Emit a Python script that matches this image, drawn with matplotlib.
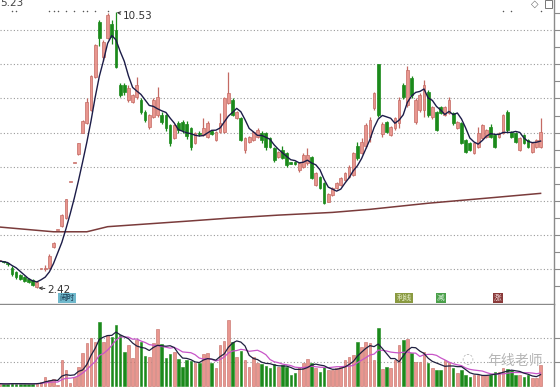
import matplotlib
matplotlib.use('Agg')
import matplotlib.pyplot as plt
import numpy as np
import pandas as pd
from matplotlib.patches import Rectangle

plt.rcParams['font.family'] = ['Noto Sans CJK SC', 'DejaVu Sans']

# ---------------- data ----------------
opens = [3.21, 3.20, 3.14, 3.01, 2.90, 2.81, 2.75, 2.69, 2.66, 2.46,
         2.98, 2.98, 3.02, 3.63, 4.13, 4.25, 4.48, 5.54, 6.09, 6.37,
         7.00, 7.28, 7.66, 8.63, 10.25, 9.22, 9.78, 10.20, 10.00, 8.40,
         8.40, 7.96, 7.90, 8.03, 7.96, 7.60, 7.16, 7.46, 7.51, 7.51,
         7.51, 7.22, 6.84, 7.28, 7.31, 7.25, 7.13, 6.69, 7.00, 6.93,
         6.87, 7.04, 6.78, 7.01, 7.01, 7.87, 7.96, 7.43, 7.43, 6.49,
         6.72, 6.78, 6.87, 6.99, 6.99, 6.84, 6.54, 6.28, 6.49, 6.40,
         6.10, 6.13, 5.89, 5.99, 6.10, 6.28, 5.46, 5.69, 5.51, 4.96,
         5.16, 5.37, 5.46, 5.60, 5.69, 5.75, 6.60, 6.40, 6.60, 6.87,
         7.72, 9.00, 6.95, 7.31, 6.93, 7.13, 7.28, 8.40, 7.81, 8.60,
         7.31, 7.66, 7.66, 8.19, 7.46, 7.60, 7.75, 7.51, 7.57, 7.57,
         7.13, 7.28, 6.78, 6.69, 6.40, 6.57, 6.84, 6.87, 7.16, 6.93,
         6.87, 6.99, 7.60, 7.01, 6.99, 6.49, 6.93, 6.78, 6.43, 6.57,
         6.57]
highs = [3.25, 3.22, 3.17, 3.06, 2.93, 2.84, 2.78, 2.72, 2.69, 2.62,
         3.00, 3.10, 3.43, 3.78, 4.13, 4.60, 5.05, 5.54, 6.09, 6.70,
         7.37, 8.00, 8.70, 9.60, 10.32, 9.72, 10.50, 10.30, 10.53, 8.45,
         8.45, 8.40, 8.13, 8.63, 8.00, 7.65, 7.55, 8.00, 8.34, 7.60,
         7.55, 7.25, 7.25, 7.33, 7.37, 7.34, 7.16, 7.02, 7.05, 7.43,
         7.33, 7.08, 7.04, 7.57, 8.03, 8.78, 8.00, 7.63, 7.46, 6.87,
         6.90, 7.04, 7.13, 7.04, 7.02, 6.87, 6.57, 6.46, 6.60, 6.43,
         6.12, 6.15, 6.13, 6.40, 6.54, 6.31, 5.84, 5.72, 5.54, 5.22,
         5.40, 5.55, 5.70, 5.84, 6.05, 6.43, 6.72, 6.84, 7.28, 7.46,
         8.20, 9.00, 7.31, 7.34, 7.19, 7.46, 8.04, 8.46, 8.96, 8.65,
         8.00, 8.16, 8.54, 8.25, 7.78, 7.63, 7.78, 7.78, 8.04, 7.60,
         7.34, 7.31, 6.81, 6.72, 6.72, 7.16, 7.25, 7.10, 7.25, 6.96,
         7.02, 7.54, 7.66, 7.04, 7.02, 6.87, 6.96, 6.81, 6.72, 6.81,
         7.43]
lows = [3.19, 3.16, 3.08, 2.78, 2.69, 2.66, 2.60, 2.57, 2.48, 2.42,
        2.98, 2.92, 3.00, 3.60, 4.13, 4.22, 4.45, 5.54, 6.09, 6.35,
        6.98, 7.25, 7.63, 8.60, 9.55, 9.10, 9.75, 9.60, 8.90, 8.05,
        8.10, 7.90, 7.87, 7.98, 7.55, 7.30, 7.10, 7.42, 7.45, 7.25,
        7.05, 6.60, 6.80, 6.98, 7.00, 6.80, 6.50, 6.66, 6.90, 6.90,
        6.84, 6.93, 6.75, 6.98, 6.98, 7.85, 7.48, 7.40, 6.75, 6.40,
        6.70, 6.75, 6.85, 6.70, 6.50, 6.55, 6.13, 6.25, 6.22, 6.00,
        6.06, 6.05, 5.85, 5.96, 6.04, 5.63, 5.43, 5.34, 4.90, 4.95,
        5.13, 5.34, 5.43, 5.57, 5.66, 5.72, 6.20, 6.37, 6.55, 6.72,
        7.66, 7.45, 6.87, 6.99, 6.90, 7.07, 7.13, 7.99, 7.75, 8.00,
        7.25, 7.60, 7.46, 7.45, 7.40, 7.04, 7.54, 7.48, 7.54, 7.22,
        7.10, 6.66, 6.40, 6.46, 6.37, 6.54, 6.81, 6.84, 6.84, 6.54,
        6.84, 6.96, 7.01, 6.84, 6.69, 6.46, 6.66, 6.54, 6.40, 6.54,
        6.54]
closes = [3.22, 3.18, 3.12, 2.84, 2.75, 2.69, 2.63, 2.60, 2.51, 2.60,
          3.00, 3.02, 3.37, 3.75, 4.13, 4.57, 5.04, 5.54, 6.09, 6.69,
          7.34, 7.90, 8.66, 9.57, 9.78, 9.66, 10.45, 9.80, 8.93, 8.10,
          8.19, 8.31, 8.10, 8.40, 7.60, 7.37, 7.51, 7.96, 8.04, 7.31,
          7.13, 6.69, 7.22, 7.07, 7.07, 6.90, 6.57, 6.99, 6.96, 7.13,
          7.28, 6.96, 7.01, 7.28, 8.00, 8.16, 7.51, 7.60, 6.78, 6.84,
          6.87, 7.01, 7.07, 6.78, 6.57, 6.57, 6.19, 6.43, 6.25, 6.04,
          6.08, 6.07, 6.10, 6.34, 6.34, 5.66, 5.81, 5.37, 4.93, 5.20,
          5.37, 5.51, 5.66, 5.81, 5.99, 6.40, 6.25, 6.72, 7.22, 7.37,
          8.16, 7.51, 7.25, 7.01, 7.16, 7.43, 7.96, 8.04, 8.84, 8.10,
          7.96, 8.10, 8.40, 7.51, 7.75, 7.07, 7.57, 7.75, 7.96, 7.28,
          7.31, 6.69, 6.43, 6.49, 6.69, 6.99, 7.22, 7.07, 6.87, 6.57,
          6.99, 7.51, 7.07, 6.87, 6.72, 6.84, 6.69, 6.57, 6.69, 6.78,
          7.01]
volumes = [1.0, 0.8, 0.9, 1.2, 1.0, 0.8, 0.9, 0.8, 1.0, 1.3,
           1.8, 3.8, 2.5, 2.9, 0.6, 10.8, 6.7, 1.2, 3.8, 8.0,
           13.7, 18.0, 20.1, 18.5, 26.8, 18.5, 21.2, 20.5, 25.4, 21.2,
           14.3, 17.1, 11.5, 19.2, 18.5, 12.5, 12.2, 18.0, 23.6, 17.5,
           11.5, 13.3, 14.3, 11.1, 8.0, 10.8, 10.6, 9.7, 9.7, 13.3,
           13.7, 9.7, 7.4, 17.1, 18.9, 27.5, 18.5, 11.9, 14.7, 10.8,
           8.0, 11.9, 9.7, 9.2, 8.3, 7.4, 9.2, 8.0, 8.75, 8.0,
           4.6, 5.3, 8.0, 9.4, 11.1, 9.7, 7.4, 6.0, 8.0, 6.7,
           6.7, 7.4, 8.0, 10.8, 11.9, 12.9, 18.5, 16.4, 18.5, 17.8,
           10.8, 24.0, 7.0, 8.0, 7.4, 10.8, 17.1, 19.2, 19.4, 13.9,
           10.1, 10.1, 14.3, 9.4, 7.4, 6.7, 6.7, 10.8, 10.1, 7.4,
           5.3, 6.7, 4.6, 3.6, 4.6, 4.6, 4.6, 4.6, 4.6, 6.0,
           6.0, 7.4, 7.0, 6.7, 4.6, 4.6, 3.9, 4.6, 3.2, 3.2,
           8.75]
# long-term moving average (candle index, price)
long_ma_idx = [0, 13, 21, 26, 46, 55, 67, 80, 89, 103, 119, 130]
long_ma_val = [4.22, 4.08, 4.08, 4.23, 4.40, 4.48, 4.57, 4.65, 4.74, 4.92, 5.09, 5.21]
# signal dots along the top
signal_idx = [3, 4, 12, 13, 14, 16, 18, 20, 21, 23, 26, 121, 123, 130]
high_label = "10.53"
low_label = "2.42"
ma_label = "5.23"

# ---------------- styling ----------------
RED_FACE = '#e8968f'
RED_EDGE = '#c46a63'
GREEN = '#1b8a1b'
GRID = '#9a9a9a'
AXIS = '#8a8a8a'

o = np.array(opens); h = np.array(highs); l = np.array(lows); c = np.array(closes)
v = np.array(volumes)
n = len(o)
idx = np.arange(n)
up = c >= o

fig = plt.figure(figsize=(5.6, 3.87), dpi=100)
ax = fig.add_axes([0, 83 / 387, 554 / 560, 304 / 387])
axv = fig.add_axes([0, 0, 554 / 560, 82 / 387])

x0 = 0.6 / 4.163
x1 = 554.6 / 4.163
for a in (ax, axv):
    a.set_xlim(x0, x1)
    a.set_xticks([])
    for s in ('left', 'top'):
        a.spines[s].set_visible(False)
    a.spines['right'].set_color(AXIS)
    a.spines['right'].set_linewidth(1.0)
    a.spines['bottom'].set_color(AXIS)
    a.spines['bottom'].set_linewidth(1.0)
    a.yaxis.tick_right()
    a.tick_params(axis='y', which='both', direction='out', length=4, color=AXIS,
                  labelright=False, labelleft=False, width=0.8)

# main panel
ax.set_ylim(1.956, 10.897)
ax.set_yticks(np.arange(3, 11, 1))
ax.set_yticks(np.arange(2.5, 11, 1), minor=True)
ax.grid(axis='y', which='major', linestyle=(0, (1, 2)), color=GRID, lw=0.8)

edge = np.where(up, RED_EDGE, GREEN)
face = np.where(up, RED_FACE, GREEN)
ax.vlines(idx, l, h, colors=edge, lw=0.9, zorder=3)
body_bot = np.minimum(o, c)
body_h = np.maximum(np.abs(c - o), 0.04)
ax.bar(idx, body_h, bottom=body_bot, width=0.66, color=face, edgecolor=edge,
       linewidth=0.5, zorder=4)

ma5 = pd.Series(c).rolling(5, min_periods=1).mean()
ax.plot(idx, ma5, color='#1c1c48', lw=1.0, zorder=5)
ax.plot(long_ma_idx, long_ma_val, color='#7a3b3b', lw=1.1, zorder=2)

ax.scatter(signal_idx, [10.57] * len(signal_idx), s=1.2, color='#555555', zorder=5, lw=0)

ax.annotate(high_label, xy=(28.2, 10.53), xytext=(29.7, 10.43), fontsize=7.5,
            color='#333333', va='center', ha='left', family='DejaVu Sans',
            arrowprops=dict(arrowstyle='->', color='#333333', lw=0.7,
                            mutation_scale=5, shrinkA=0, shrinkB=0))
ax.annotate(low_label, xy=(9.4, 2.43), xytext=(11.6, 2.37), fontsize=7.5,
            color='#333333', va='center', ha='left', family='DejaVu Sans',
            arrowprops=dict(arrowstyle='->', color='#333333', lw=0.7,
                            mutation_scale=5, shrinkA=0, shrinkB=0))
fig.text(0.0, 1 - 6.5 / 387, ma_label, fontsize=7.5, color='#444444',
         va='baseline', ha='left', family='DejaVu Sans')

# icons top right
fig.text(535 / 560, 1 - 3.5 / 387, '◇', fontsize=7, color='#666666', ha='center',
         va='center', family='DejaVu Sans')
fig.patches.append(Rectangle((545 / 560, 1 - 8 / 387), 7 / 560, 8 / 387,
                             transform=fig.transFigure, fill=False,
                             edgecolor='#777777', lw=0.7))

# info boxes at bottom of price panel
def tag(xpx, txt, bg, fg):
    fig.text(xpx / 560, 1 - 298 / 387, txt, fontsize=5.5, color=fg, ha='center',
             va='center', bbox=dict(boxstyle='square,pad=0.15', fc=bg, ec='none'))

tag(67, '闹时', '#6fb8cc', '#1a3a50')
tag(404, '利线', '#8a9a40', '#e8f0d0')
tag(441, '减', '#4aa04a', '#e0f0e0')
tag(498, '涨', '#8a3a3a', '#f0d8d8')

# volume panel
axv.set_ylim(-0.42, 33.75)
axv.set_yticks([10, 20])
axv.grid(axis='y', linestyle=(0, (1, 2)), color=GRID, lw=0.8)
axv.spines['bottom'].set_visible(False)
axv.bar(idx, v, width=0.62, color=face, edgecolor=edge, linewidth=0.4, zorder=3)
vma5 = pd.Series(v).rolling(5, min_periods=1).mean()
vma10 = pd.Series(v).rolling(10, min_periods=1).mean()
axv.plot(idx, vma10, color='#c855c8', lw=0.9, zorder=4)
axv.plot(idx, vma5, color='#202040', lw=0.9, zorder=5)

# watermark
fig.text(515 / 560, 1 - 361 / 387, '年线老师', fontsize=10, color='#b5b5b5',
         ha='center', va='center')
fig.text(467 / 560, 1 - 358 / 387, '◌', fontsize=10, color='#b5b5b5',
         ha='center', va='center', family='DejaVu Sans')

fig.savefig('out.png', dpi=100)
